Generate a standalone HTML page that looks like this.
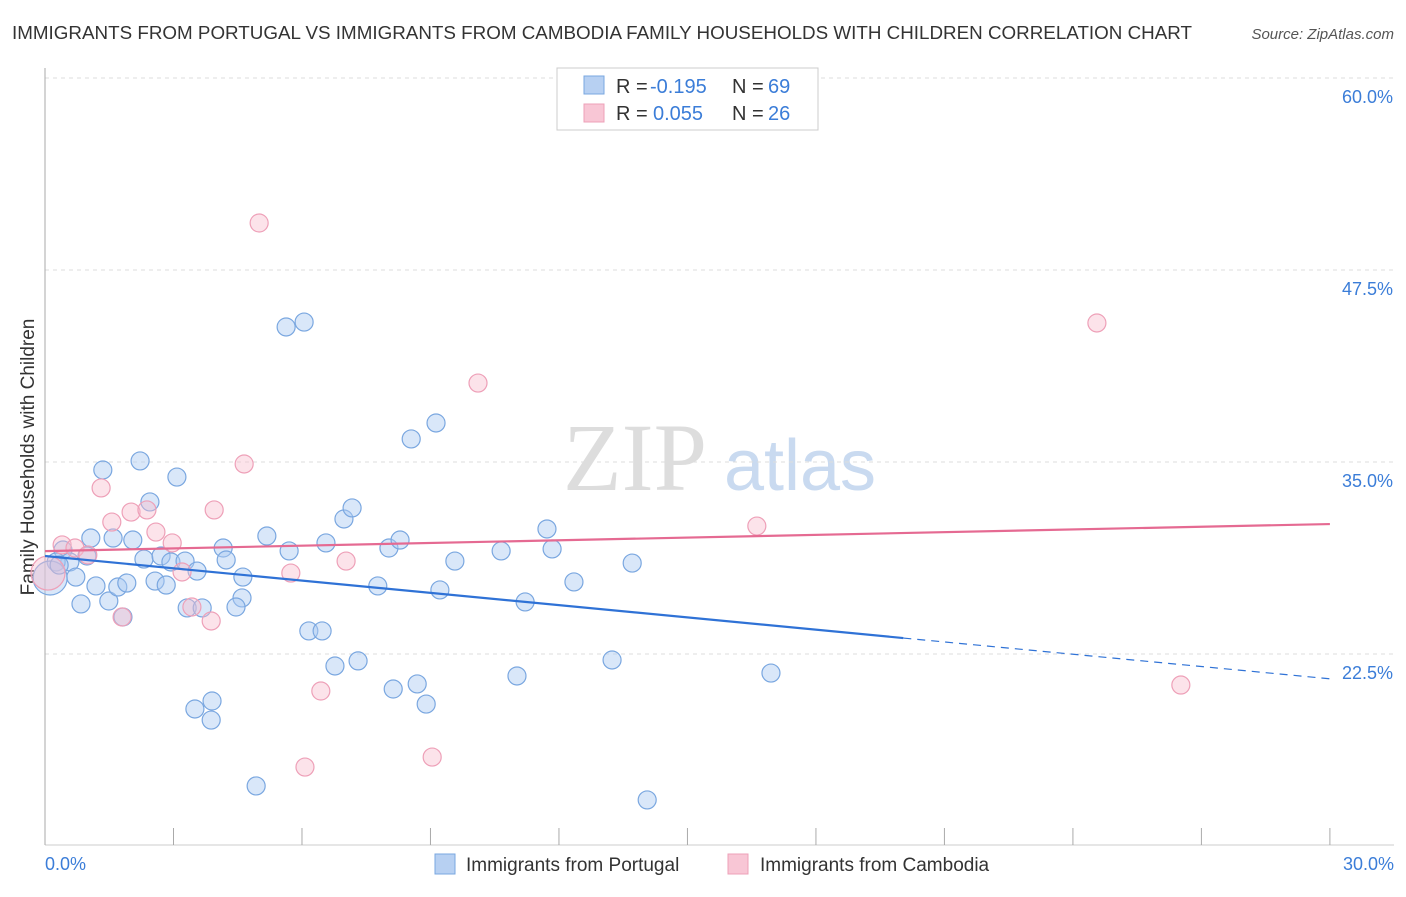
<!DOCTYPE html>
<html><head><meta charset="utf-8"><style>
body{margin:0;background:#fff;font-family:"Liberation Sans",sans-serif;}
svg text{font-family:"Liberation Sans",sans-serif;}
</style></head><body>
<svg id="chart" width="1406" height="892" xmlns="http://www.w3.org/2000/svg">
<text x="12" y="39" font-size="18" fill="#333" textLength="1180" lengthAdjust="spacingAndGlyphs">IMMIGRANTS FROM PORTUGAL VS IMMIGRANTS FROM CAMBODIA FAMILY HOUSEHOLDS WITH CHILDREN CORRELATION CHART</text>
<text x="1394" y="39" font-size="15" fill="#555" text-anchor="end" font-style="italic">Source: ZipAtlas.com</text>
<text x="0" y="0" transform="translate(34,457) rotate(-90)" font-size="19" fill="#333" text-anchor="middle">Family Households with Children</text>
<g>
<text x="635" y="490" font-size="96" fill="#ddd" text-anchor="middle" style="font-family:'Liberation Serif',serif">ZIP</text>
<text x="800" y="490" font-size="72" fill="#c9daf0" text-anchor="middle">atlas</text>
</g>
<g id="grid"></g>
<g id="axes"></g>
<g id="pts"></g>
<g id="lines"></g>
<g>
<rect x="557" y="68" width="261" height="62" fill="#fff" stroke="#ccc"/>
<rect x="584" y="76" width="20" height="18" fill="#b7d0f2" stroke="#7aa7e0"/>
<rect x="584" y="104" width="20" height="18" fill="#f8c6d5" stroke="#eea0b8"/>
<text x="616" y="93" font-size="20" fill="#333">R =</text>
<text x="650" y="93" font-size="20" fill="#3b7dd8">-0.195</text>
<text x="732" y="93" font-size="20" fill="#333">N =</text>
<text x="768" y="93" font-size="20" fill="#3b7dd8">69</text>
<text x="616" y="120" font-size="20" fill="#333">R =</text>
<text x="653" y="120" font-size="20" fill="#3b7dd8">0.055</text>
<text x="732" y="120" font-size="20" fill="#333">N =</text>
<text x="768" y="120" font-size="20" fill="#3b7dd8">26</text>
</g>
<g>
<rect x="435" y="854" width="20" height="20" fill="#b7d0f2" stroke="#7aa7e0"/>
<text x="466" y="871" font-size="19" fill="#333">Immigrants from Portugal</text>
<rect x="728" y="854" width="20" height="20" fill="#f8c6d5" stroke="#eea0b8"/>
<text x="760" y="871" font-size="19" fill="#333">Immigrants from Cambodia</text>
</g>
</svg>
<script>
const yTicks=[60,47.5,35,22.5];
const yTickLabels=["60.0%","47.5%","35.0%","22.5%"];
const xTickLabels=["0.0%","30.0%"];
const portugalX=[1.35,2.22,3.08,2.45,1.07,1.59,2.05,0.98,0.42,0.58,0.26,0.72,1.19,0.84,1.49,1.70,1.91,2.31,2.57,2.71,2.94,2.83,3.27,3.55,3.32,3.67,4.16,4.23,4.62,4.60,4.46,5.18,5.70,6.16,6.47,6.56,6.98,7.17,8.03,8.29,7.77,6.77,7.31,8.13,8.69,8.90,9.22,9.57,10.65,11.21,11.72,11.84,12.35,13.71,13.24,11.02,8.55,9.13,5.63,6.05,3.50,3.90,3.88,4.93,14.06,16.95,0.12,0.33,1.82];
const portugalY=[34.48,35.07,34.02,32.40,30.05,30.05,29.92,28.88,29.27,28.49,28.49,27.51,26.93,25.76,25.95,26.86,27.12,28.68,27.25,28.88,28.49,26.99,28.55,27.90,25.50,25.50,29.40,28.62,27.51,26.15,25.56,30.18,29.21,24.00,24.00,29.73,31.29,32.01,29.40,29.92,26.93,21.72,22.05,20.22,20.55,19.24,26.67,28.55,29.21,25.89,30.64,29.34,27.19,28.42,22.11,21.07,36.50,37.54,43.79,44.11,18.92,19.44,18.20,13.91,13.00,21.26,27.45,28.29,24.91];
const portugalBig=[66];
const cambodiaX=[5.00,10.11,24.56,4.65,1.31,3.95,1.56,2.01,2.38,2.59,2.97,0.40,0.70,1.00,3.20,5.74,7.03,3.43,3.88,1.80,6.44,6.07,9.04,16.62,26.52,0.07];
const cambodiaY=[50.56,40.14,44.05,34.87,33.31,31.88,31.09,31.74,31.88,30.44,29.73,29.60,29.40,28.95,27.84,27.77,28.55,25.56,24.65,24.91,20.09,15.14,15.79,30.83,20.48,27.77];
const cambodiaBig=[25];
const portugalTrend=[28.88,-0.2665];
const cambodiaTrend=[29.2,0.0587];
const NS="http://www.w3.org/2000/svg";
const X=v=>45+v*42.83, Y=v=>78+(60-v)*15.36;
function mk(tag,attrs,parent){const e=document.createElementNS(NS,tag);for(const k in attrs)e.setAttribute(k,attrs[k]);document.getElementById(parent).appendChild(e);return e;}
yTicks.forEach((t,i)=>{
 const l=mk('line',{x1:45,x2:1394,y1:Y(t),y2:Y(t),stroke:'#ddd','stroke-dasharray':'4,4'},'grid');
 
 
 const tx=mk('text',{x:1393,y:Y(t)+25,'font-size':18,fill:'#3b7dd8','text-anchor':'end'},'grid');
 tx.textContent=yTickLabels[i];
 
 
});
const ax=mk('line',{x1:45,x2:45,y1:68,y2:845,stroke:'#aaa'},'axes');


const bx=mk('line',{x1:45,x2:1394,y1:845,y2:845,stroke:'#ccc'},'axes');


for(let i=0;i<=10;i++){const v=i*3;const t=mk('line',{x1:X(v),x2:X(v),y1:828,y2:845,stroke:'#aaa'},'axes');
 
 }
[[0,'start',45],[30,'end',1394]].forEach((d,i)=>{const t=mk('text',{x:d[2],y:870,'font-size':18,fill:'#3b7dd8','text-anchor':d[1]},'axes');t.textContent=xTickLabels[i];
 
 });
function drawPts(xs,ys,big,fill,stroke,name){xs.forEach((x,i)=>{const c=mk('circle',{cx:X(x),cy:Y(ys[i]),r:big.includes(i)?17:9,fill:fill,stroke:stroke,'stroke-width':1.2},'pts');
 
 });}
drawPts(portugalX,portugalY,portugalBig,'rgba(170,202,242,0.45)','#7aa7e0','portugal-point');
drawPts(cambodiaX,cambodiaY,cambodiaBig,'rgba(247,188,206,0.42)','#eea0b8','cambodia-point');
const f=(tr,x)=>tr[0]+tr[1]*x;
const l1=mk('line',{x1:X(0),y1:Y(f(portugalTrend,0)),x2:X(20.04),y2:Y(f(portugalTrend,20.04)),stroke:'#2f72d6','stroke-width':2.2},'lines');


const l2=mk('line',{x1:X(20.04),y1:Y(f(portugalTrend,20.04)),x2:X(30),y2:Y(f(portugalTrend,30)),stroke:'#2f72d6','stroke-width':1.2,'stroke-dasharray':'8,6'},'lines');


const l3=mk('line',{x1:X(0),y1:Y(f(cambodiaTrend,0)),x2:X(30),y2:Y(f(cambodiaTrend,30)),stroke:'#e56a92','stroke-width':2.2},'lines');


</script>
</body></html>
